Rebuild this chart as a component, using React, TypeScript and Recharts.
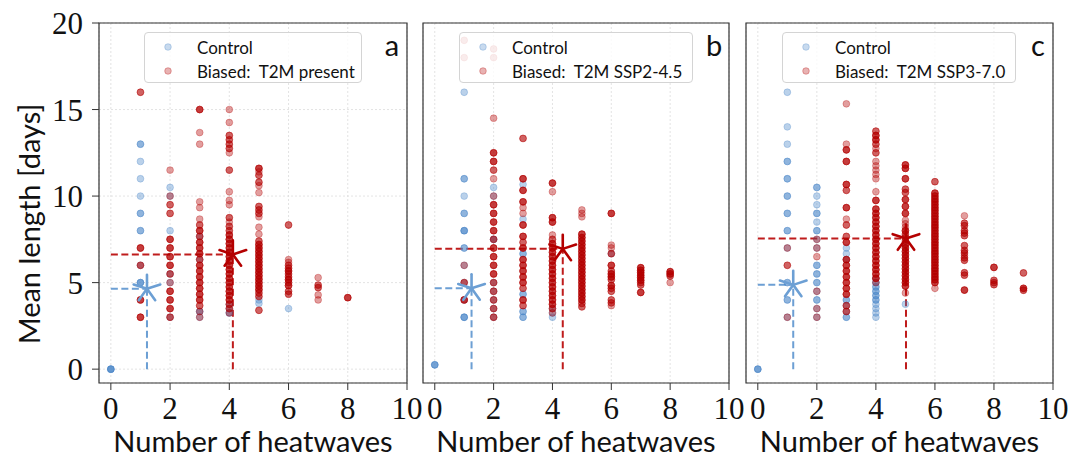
import React from "react";
import { ScatterChart, Scatter, XAxis, YAxis, CartesianGrid, ReferenceLine, ReferenceArea } from "recharts";

type Pt = [number, number, number?];

// [heatwave count, mean length, number of members at that spot]
const aControl: Pt[] = [
  [0, 0, 4],
  [1, 13, 2], [1, 12, 1], [1, 11, 1], [1, 10, 1], [1, 9, 2], [1, 8, 2], [1, 6, 1], [1, 5, 3],
  [2, 10.5, 1], [2, 10, 1], [2, 8, 1], [2, 5.5, 1], [2, 5, 1], [2, 3, 1],
  [3, 7.67, 1], [3, 6.33, 1], [3, 3.33, 2], [3, 3, 1],
  [4, 3.75, 1], [4, 3.5, 1], [4, 3.25, 2],
  [5, 4, 1], [5, 3.8, 1],
  [6, 3.5, 1],
];
const aBiased: Pt[] = [
  [1, 16, 2], [1, 7, 3], [1, 6, 2], [1, 4, 3], [1, 3, 3],
  [2, 11.5, 1], [2, 10, 1], [2, 9.5, 2], [2, 9, 2], [2, 7.5, 3], [2, 7, 3], [2, 6.5, 3], [2, 6, 3], [2, 5.5, 2], [2, 5, 1], [2, 4.5, 3], [2, 4, 3], [2, 3.5, 3], [2, 3, 2],
  [3, 15, 3], [3, 13.67, 1], [3, 13, 1], [3, 9.67, 1], [3, 9.33, 1], [3, 8.67, 1], [3, 8.33, 2], [3, 8, 3], [3, 7.67, 2], [3, 7.33, 3], [3, 7, 3], [3, 6.67, 3], [3, 6.33, 2], [3, 6, 3], [3, 5.67, 3], [3, 5.33, 3], [3, 5, 3], [3, 4.67, 3], [3, 4.33, 3], [3, 4, 3], [3, 3.67, 2], [3, 3.33, 1], [3, 3, 1],
  [4, 15, 1], [4, 14.25, 1], [4, 13.5, 2], [4, 13.25, 2], [4, 13, 2], [4, 12.75, 2], [4, 12.5, 1], [4, 11.5, 2], [4, 10.25, 1], [4, 9.75, 1], [4, 9.5, 1], [4, 8.75, 2], [4, 8.5, 1], [4, 8.25, 2], [4, 8, 2], [4, 7.75, 3], [4, 7.5, 3], [4, 7.25, 3], [4, 7, 3], [4, 6.75, 3], [4, 6.5, 3], [4, 6.25, 3], [4, 6, 3], [4, 5.75, 3], [4, 5.5, 3], [4, 5.25, 3], [4, 5, 3], [4, 4.75, 3], [4, 4.5, 3], [4, 4.25, 3], [4, 4, 3], [4, 3.75, 2], [4, 3.5, 2], [4, 3.25, 1],
  [5, 11.6, 3], [5, 11.4, 1], [5, 11.2, 2], [5, 10.8, 2], [5, 10.6, 1], [5, 10.2, 1], [5, 9.4, 2], [5, 9.2, 2], [5, 9, 2], [5, 8.8, 1], [5, 8.2, 1], [5, 7.8, 1], [5, 7.4, 2], [5, 7.2, 3], [5, 7, 3], [5, 6.8, 3], [5, 6.6, 3], [5, 6.4, 3], [5, 6.2, 3], [5, 6, 3], [5, 5.8, 3], [5, 5.6, 3], [5, 5.4, 3], [5, 5.2, 3], [5, 5, 3], [5, 4.8, 3], [5, 4.6, 3], [5, 4.4, 2], [5, 4.2, 2], [5, 3.4, 2],
  [6, 8.33, 2], [6, 6.33, 1], [6, 6.17, 1], [6, 6, 2], [6, 5.83, 2], [6, 5.67, 3], [6, 5.5, 2], [6, 5.33, 2], [6, 5.17, 3], [6, 5, 2], [6, 4.83, 3], [6, 4.5, 2], [6, 4.33, 2],
  [7, 5.29, 1], [7, 4.86, 2], [7, 4.71, 2], [7, 4.29, 1], [7, 4, 1],
  [8, 4.13, 3],
];

const bControl: Pt[] = [
  [0, 0.25, 3],
  [1, 16, 1], [1, 11, 2], [1, 10, 1], [1, 9, 2], [1, 8, 3], [1, 7, 2], [1, 6, 1], [1, 5, 1], [1, 4, 1], [1, 3, 3],
  [2, 10.5, 1], [2, 10, 1], [2, 7.5, 2], [2, 5, 1], [2, 4.5, 1], [2, 4, 1], [2, 3.5, 1], [2, 3, 1],
  [3, 10.67, 1], [3, 8.67, 1], [3, 6.67, 2], [3, 4.33, 2], [3, 3.33, 2], [3, 3, 2],
  [4, 3.5, 1], [4, 3.25, 1], [4, 3, 1],
  [6, 6.67, 1],
];
const bBiased: Pt[] = [
  [1, 19, 1], [1, 18, 1], [1, 6, 1], [1, 5, 2], [1, 4, 3],
  [2, 18.5, 1], [2, 18, 1], [2, 14.5, 1], [2, 12.5, 3], [2, 12, 3], [2, 11.5, 2], [2, 11, 1], [2, 10, 1], [2, 9.5, 3], [2, 9, 3], [2, 8.5, 3], [2, 8, 3], [2, 7.5, 2], [2, 7, 3], [2, 6.5, 3], [2, 6, 3], [2, 5.5, 3], [2, 5, 2], [2, 4.5, 2], [2, 4, 2], [2, 3.5, 2], [2, 3, 2],
  [3, 13.33, 2], [3, 11, 3], [3, 10.33, 3], [3, 9.67, 3], [3, 9.33, 1], [3, 9, 1], [3, 8.33, 3], [3, 7.67, 3], [3, 7.33, 2], [3, 7, 3], [3, 6.33, 3], [3, 6, 3], [3, 5.67, 3], [3, 5.33, 3], [3, 5, 3], [3, 4.67, 2], [3, 4, 3], [3, 3.67, 2],
  [4, 10.75, 3], [4, 10.25, 1], [4, 8.75, 3], [4, 8.5, 3], [4, 7.75, 1], [4, 7.5, 2], [4, 7.25, 3], [4, 7, 3], [4, 6.75, 3], [4, 6.5, 3], [4, 6.25, 3], [4, 6, 3], [4, 5.75, 3], [4, 5.5, 3], [4, 5.25, 3], [4, 5, 3], [4, 4.75, 3], [4, 4.5, 3], [4, 4.25, 3], [4, 4, 3], [4, 3.75, 3], [4, 3.5, 2], [4, 3.25, 1],
  [5, 9.2, 1], [5, 9, 1], [5, 8.8, 1], [5, 7.8, 3], [5, 7.6, 3], [5, 7.4, 3], [5, 7.2, 3], [5, 7, 3], [5, 6.8, 3], [5, 6.6, 3], [5, 6.4, 3], [5, 6.2, 3], [5, 6, 3], [5, 5.8, 3], [5, 5.6, 3], [5, 5.4, 3], [5, 5.2, 3], [5, 5, 3], [5, 4.8, 3], [5, 4.6, 3], [5, 4.4, 3], [5, 4.2, 3], [5, 4, 3], [5, 3.8, 2], [5, 3.6, 2],
  [6, 9, 3], [6, 7.17, 1], [6, 7, 1], [6, 6.67, 2], [6, 6, 3], [6, 5.67, 2], [6, 5.5, 3], [6, 5.33, 3], [6, 5.17, 2], [6, 4.83, 3], [6, 4.67, 2], [6, 4.5, 2], [6, 4, 2], [6, 3.83, 2], [6, 3.67, 1],
  [7, 5.86, 3], [7, 5.71, 3], [7, 5.57, 3], [7, 5.43, 3], [7, 5.29, 3], [7, 5.14, 3], [7, 5, 2], [7, 4.86, 2], [7, 4.43, 3],
  [8, 5.63, 3], [8, 5.5, 3], [8, 5.38, 2], [8, 5, 1],
];

const cControl: Pt[] = [
  [0, 0, 3],
  [1, 16, 1], [1, 14, 1], [1, 13, 1], [1, 12, 2], [1, 11, 2], [1, 10, 2], [1, 9, 2], [1, 8, 2], [1, 7, 1], [1, 5, 2], [1, 4, 2], [1, 3, 1],
  [2, 10.5, 2], [2, 10, 1], [2, 9.5, 1], [2, 9, 2], [2, 8.5, 1], [2, 8, 2], [2, 7.5, 1], [2, 7, 1], [2, 6, 2], [2, 5.5, 2], [2, 5, 2], [2, 4.5, 1], [2, 4, 2], [2, 3.5, 1], [2, 3, 1],
  [3, 7, 1], [3, 6.67, 1], [3, 6.33, 1], [3, 4, 2], [3, 3.67, 1], [3, 3.33, 1], [3, 3, 2],
  [4, 5.25, 1], [4, 5, 2], [4, 4.75, 2], [4, 4.5, 2], [4, 4.25, 2], [4, 4, 2], [4, 3.75, 1], [4, 3.5, 1], [4, 3.25, 1], [4, 3, 1],
  [5, 3.75, 1],
];
const cBiased: Pt[] = [
  [1, 7, 1], [1, 6, 2], [1, 3, 1],
  [2, 7.5, 1], [2, 7, 1], [2, 6.5, 1], [2, 4.5, 1], [2, 3.5, 1], [2, 3, 1],
  [3, 15.33, 1], [3, 13, 1], [3, 12.67, 3], [3, 12, 3], [3, 10.67, 3], [3, 10.33, 2], [3, 9.33, 3], [3, 8.67, 1], [3, 8.33, 2], [3, 7.67, 2], [3, 7.33, 3], [3, 6.33, 3], [3, 6, 3], [3, 5.67, 3], [3, 5.33, 3], [3, 5, 3], [3, 4.67, 3], [3, 4.33, 3], [3, 3.67, 2], [3, 3.33, 2],
  [4, 13.75, 2], [4, 13.5, 3], [4, 13.25, 3], [4, 13, 2], [4, 12.75, 1], [4, 12.5, 2], [4, 12, 1], [4, 11.75, 1], [4, 11.5, 1], [4, 11.25, 1], [4, 11, 1], [4, 10.25, 1], [4, 9.75, 3], [4, 9.25, 3], [4, 9, 3], [4, 8.75, 3], [4, 8.5, 3], [4, 8.25, 3], [4, 8, 3], [4, 7.75, 3], [4, 7.5, 3], [4, 7.25, 3], [4, 7, 3], [4, 6.75, 3], [4, 6.5, 3], [4, 6.25, 3], [4, 6, 3], [4, 5.75, 3], [4, 5.5, 3], [4, 5.25, 3], [4, 5, 1],
  [5, 11.8, 3], [5, 11.6, 3], [5, 11, 3], [5, 10.4, 2], [5, 10.2, 2], [5, 9.8, 3], [5, 9.4, 3], [5, 9, 3], [5, 8.6, 1], [5, 8.4, 1], [5, 8.2, 1], [5, 8, 3], [5, 7.8, 2], [5, 7.6, 2], [5, 7.4, 2], [5, 7.2, 3], [5, 7, 3], [5, 6.8, 3], [5, 6.6, 3], [5, 6.4, 3], [5, 6.2, 3], [5, 6, 3], [5, 5.8, 3], [5, 5.6, 3], [5, 5.4, 3], [5, 5.2, 3], [5, 5, 3], [5, 4.8, 3], [5, 4.4, 1],
  [6, 10.83, 2], [6, 10.17, 3], [6, 10, 3], [6, 9.83, 3], [6, 9.67, 3], [6, 9.5, 3], [6, 9.33, 3], [6, 9.17, 3], [6, 9, 3], [6, 8.83, 3], [6, 8.67, 3], [6, 8.5, 3], [6, 8.33, 3], [6, 8.17, 3], [6, 8, 3], [6, 7.83, 3], [6, 7.67, 3], [6, 7.5, 3], [6, 7.33, 3], [6, 7.17, 3], [6, 7, 3], [6, 6.83, 3], [6, 6.67, 3], [6, 6.5, 3], [6, 6.33, 3], [6, 6.17, 3], [6, 6, 3], [6, 5.83, 3], [6, 5.67, 3], [6, 5.5, 3], [6, 5.33, 3], [6, 5.17, 3], [6, 5, 3], [6, 4.67, 1],
  [7, 8.86, 1], [7, 8.43, 2], [7, 8.29, 2], [7, 8, 2], [7, 7.86, 2], [7, 7.71, 2], [7, 7.14, 2], [7, 6.86, 2], [7, 6.71, 2], [7, 6.57, 1], [7, 6.43, 2], [7, 6.29, 2], [7, 5.57, 2], [7, 5.43, 2], [7, 4.57, 3],
  [8, 5.88, 3], [8, 5.13, 2], [8, 5, 2], [8, 4.88, 2],
  [9, 5.56, 2], [9, 4.67, 3], [9, 4.56, 2],
];

// mean (x, y) of control and biased, per panel
const aMeans = [[1.22, 4.64], [4.12, 6.63]];
const bMeans = [[1.25, 4.67], [4.35, 6.95]];
const cMeans = [[1.2, 4.87], [5.02, 7.55]];

const biasedLabels = ["Biased:  T2M present", "Biased:  T2M SSP2-4.5", "Biased:  T2M SSP3-7.0"];
const panelLetters = ["a", "b", "c"];
const xTicks = [0, 2, 4, 6, 8, 10];
const yTicks = [0, 5, 10, 15, 20];

const CTRL = "#4a86c8";
const BIAS = "#b40000";
const CTRL_LINE = "#6c9fd4";
const BIAS_LINE = "#bf1c1c";
const SANS = "Lato, 'DejaVu Sans', sans-serif";
const SERIF = "'Liberation Serif', serif";

const expand = (pts: Pt[]) =>
  pts.flatMap(([x, y, n = 1]) => Array.from({ length: n }, () => ({ x, y })));

const dot = (color: string) => (props: any) => {
  const { cx, cy } = props;
  if (cx == null || cy == null) return <g />;
  return <circle cx={cx} cy={cy} r={3.4} fill={color} fillOpacity={0.38} stroke={color} strokeOpacity={0.3} strokeWidth={1} />;
};

const asterisk = (color: string) => (props: any) => {
  const { cx, cy } = props;
  if (cx == null || cy == null) return <g />;
  const r = 14;
  return (
    <g>
      {[90, 18, -54, -126, 162].map((a) => {
        const t = (a * Math.PI) / 180;
        return <line key={a} x1={cx} y1={cy} x2={cx + r * Math.cos(t)} y2={cy - r * Math.sin(t)} stroke={color} strokeWidth={2.6} strokeLinecap="round" />;
      })}
    </g>
  );
};

const TOP = 23;
const PLOT_H = 360;

function Panel({ idx, plotLeft, plotWidth, yw, control, biased, means }: {
  idx: number; plotLeft: number; plotWidth: number; yw: number;
  control: Pt[]; biased: Pt[]; means: number[][];
}) {
  const rightPad = 40;
  const [cm, bm] = means;
  return (
    <div style={{ position: "absolute", left: plotLeft - yw, top: 0 }}>
      <ScatterChart width={yw + plotWidth + rightPad} height={462} margin={{ top: TOP, right: rightPad, bottom: 0, left: 0 }}>
        <CartesianGrid stroke="#dcdcdc" strokeDasharray="2 2" strokeWidth={0.8} />
        <XAxis type="number" dataKey="x" domain={[-0.4, 10]} ticks={xTicks} allowDataOverflow
          height={462 - TOP - PLOT_H} tickSize={7} tickMargin={7} stroke="#333" axisLine={false}
          tick={{ fontFamily: SERIF, fontSize: 31, fill: "#111" }} />
        <YAxis type="number" dataKey="y" domain={[-0.8, 20]} ticks={yTicks} allowDataOverflow
          width={yw} tickSize={7} tickMargin={9} stroke="#333" axisLine={false}
          tick={idx === 0 ? { fontFamily: SERIF, fontSize: 31, fill: "#111" } : false} />
        <ReferenceArea x1={-0.4} x2={10} y1={-0.8} y2={20} fill="none" stroke="#333" strokeWidth={1.2} ifOverflow="visible" />
        <Scatter data={expand(control)} shape={dot(CTRL)} isAnimationActive={false} />
        <Scatter data={expand(biased)} shape={dot(BIAS)} isAnimationActive={false} />
        <ReferenceLine segment={[{ x: 0, y: cm[1] }, { x: cm[0], y: cm[1] }]} stroke={CTRL_LINE} strokeWidth={2} strokeDasharray="7 3.5" ifOverflow="visible" />
        <ReferenceLine segment={[{ x: cm[0], y: 0 }, { x: cm[0], y: cm[1] }]} stroke={CTRL_LINE} strokeWidth={2} strokeDasharray="7 3.5" ifOverflow="visible" />
        <ReferenceLine segment={[{ x: 0, y: bm[1] }, { x: bm[0], y: bm[1] }]} stroke={BIAS_LINE} strokeWidth={2} strokeDasharray="7 3.5" ifOverflow="visible" />
        <ReferenceLine segment={[{ x: bm[0], y: 0 }, { x: bm[0], y: bm[1] }]} stroke={BIAS_LINE} strokeWidth={2} strokeDasharray="7 3.5" ifOverflow="visible" />
        <Scatter data={[{ x: cm[0], y: cm[1] }]} shape={asterisk(CTRL_LINE)} isAnimationActive={false} />
        <Scatter data={[{ x: bm[0], y: bm[1] }]} shape={asterisk(BIAS)} isAnimationActive={false} />
      </ScatterChart>
      {/* legend */}
      <div style={{
        position: "absolute", left: yw + (idx === 0 ? 45 : 36), top: 32, width: idx === 0 ? 218 : 234, height: 51,
        border: "1px solid #d4d4d4", borderRadius: 4, background: "rgba(255,255,255,0.8)", boxSizing: "border-box",
        fontFamily: SANS, fontSize: 17, color: "#111",
      }}>
        {[["Control", CTRL], [biasedLabels[idx], BIAS]].map(([label, color], i) => (
          <div key={i} style={{ position: "absolute", left: 0, top: 3 + i * 24, height: 22, display: "flex", alignItems: "center", whiteSpace: "pre" }}>
            <svg width={52} height={20}><circle cx={23} cy={10} r={3.3} fill={color} fillOpacity={0.3} stroke={color} strokeOpacity={0.3} /></svg>
            <span>{label}</span>
          </div>
        ))}
      </div>
      <div style={{ position: "absolute", left: yw + plotWidth - 30, top: 27, width: 30, textAlign: "center", fontFamily: SANS, fontSize: 29, color: "#111" }}>
        {panelLetters[idx]}
      </div>
      <div style={{ position: "absolute", left: yw - 20, top: 423, width: plotWidth + 40, textAlign: "center", fontFamily: SANS, fontSize: 29, color: "#111", whiteSpace: "nowrap" }}>
        Number of heatwaves
      </div>
    </div>
  );
}

export default function App() {
  return (
    <div style={{ position: "absolute", left: 0, top: 0, width: 1079, height: 462, background: "#fff", overflow: "hidden" }}>
      <Panel idx={0} plotLeft={99} plotWidth={308} yw={99} control={aControl} biased={aBiased} means={aMeans} />
      <Panel idx={1} plotLeft={423} plotWidth={306} yw={20} control={bControl} biased={bBiased} means={bMeans} />
      <Panel idx={2} plotLeft={746} plotWidth={307} yw={20} control={cControl} biased={cBiased} means={cMeans} />
      <div style={{
        position: "absolute", left: 28, top: 224, transform: "translate(-50%, -50%) rotate(-90deg)",
        whiteSpace: "nowrap", fontFamily: SANS, fontSize: 29, color: "#111",
      }}>
        Mean length [days]
      </div>
    </div>
  );
}
